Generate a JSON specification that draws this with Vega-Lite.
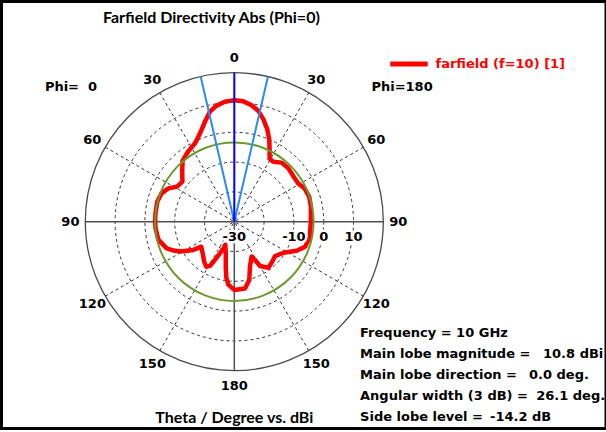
{
  "$schema": "https://vega.github.io/schema/vega-lite/v6.json",
  "width": 604.5,
  "height": 427,
  "autosize": {"type": "none"},
  "padding": {"left": 1.5, "top": 1.5, "right": 0, "bottom": 3.5},
  "background": "white",
  "config": {
    "view": {"stroke": "black", "strokeWidth": 3},
    "text": {"font": "DejaVu Sans", "fontWeight": "bold", "fontSize": 13, "color": "#000000"}
  },
  "datasets": {
    "curve": [
      {"angle": -180, "dBi": -7.1},
      {"angle": -174.6, "dBi": -8.8},
      {"angle": -171.9, "dBi": -11.0},
      {"angle": -169.3, "dBi": -14.6},
      {"angle": -165.1, "dBi": -18.9},
      {"angle": -158.6, "dBi": -21.7},
      {"angle": -157.8, "dBi": -20.2},
      {"angle": -154.1, "dBi": -16.9},
      {"angle": -151.4, "dBi": -13.2},
      {"angle": -148.1, "dBi": -12.2},
      {"angle": -143.1, "dBi": -13.2},
      {"angle": -133.2, "dBi": -15.3},
      {"angle": -127.1, "dBi": -16.1},
      {"angle": -124.6, "dBi": -13.3},
      {"angle": -119.0, "dBi": -9.3},
      {"angle": -115.5, "dBi": -7.5},
      {"angle": -111.5, "dBi": -5.6},
      {"angle": -103.3, "dBi": -3.8},
      {"angle": -95.0, "dBi": -3.5},
      {"angle": -90.0, "dBi": -3.4},
      {"angle": -84.0, "dBi": -3.4},
      {"angle": -75.4, "dBi": -3.3},
      {"angle": -68.7, "dBi": -3.8},
      {"angle": -63.2, "dBi": -5.2},
      {"angle": -58.8, "dBi": -7.4},
      {"angle": -52.3, "dBi": -8.0},
      {"angle": -46.0, "dBi": -5.7},
      {"angle": -40.4, "dBi": -3.2},
      {"angle": -33.3, "dBi": -1.8},
      {"angle": -26.7, "dBi": -0.6},
      {"angle": -21.2, "dBi": 1.8},
      {"angle": -16.3, "dBi": 5.0},
      {"angle": -12.5, "dBi": 7.8},
      {"angle": -8.7, "dBi": 9.4},
      {"angle": -4.5, "dBi": 10.4},
      {"angle": 0, "dBi": 10.8},
      {"angle": 4.3, "dBi": 10.5},
      {"angle": 8.5, "dBi": 9.5},
      {"angle": 12.3, "dBi": 8.0},
      {"angle": 15.9, "dBi": 5.7},
      {"angle": 19.8, "dBi": 2.8},
      {"angle": 23.2, "dBi": -0.2},
      {"angle": 26.6, "dBi": -3.5},
      {"angle": 29.3, "dBi": -5.8},
      {"angle": 33.0, "dBi": -6.0},
      {"angle": 38.7, "dBi": -4.6},
      {"angle": 45.4, "dBi": -4.5},
      {"angle": 52.7, "dBi": -5.0},
      {"angle": 59.1, "dBi": -5.0},
      {"angle": 64.8, "dBi": -3.9},
      {"angle": 71.6, "dBi": -3.5},
      {"angle": 78.9, "dBi": -3.8},
      {"angle": 85.0, "dBi": -4.2},
      {"angle": 90.0, "dBi": -4.3},
      {"angle": 95.0, "dBi": -4.4},
      {"angle": 101.2, "dBi": -4.1},
      {"angle": 109.5, "dBi": -4.8},
      {"angle": 115.0, "dBi": -6.9},
      {"angle": 122.3, "dBi": -10.5},
      {"angle": 130.1, "dBi": -12.1},
      {"angle": 137.7, "dBi": -11.4},
      {"angle": 143.5, "dBi": -10.8},
      {"angle": 149.9, "dBi": -12.8},
      {"angle": 151.6, "dBi": -15.4},
      {"angle": 153.7, "dBi": -16.9},
      {"angle": 160.8, "dBi": -14.0},
      {"angle": 165.6, "dBi": -9.8},
      {"angle": 170.9, "dBi": -7.3},
      {"angle": 180, "dBi": -7.1}
    ],
    "rings": [{"r": 10}, {"r": 20}, {"r": 30}, {"r": 40}],
    "outer": [{"r": 50}],
    "sidelobe": [{"dBi": -3.4}],
    "spokes": [
      {"angle": 30}, {"angle": 60}, {"angle": 120}, {"angle": 150},
      {"angle": -30}, {"angle": -60}, {"angle": -120}, {"angle": -150}
    ],
    "axes": [{"angle": 90}, {"angle": -90}, {"angle": 180}],
    "mainlobe": [{"angle": 0}],
    "beamwidth": [{"angle": -13.05}, {"angle": 13.05}],
    "angleLabels": [
      {"angle": 0, "label": "0"},
      {"angle": 30, "label": "30"}, {"angle": -30, "label": "30"},
      {"angle": 60, "label": "60"}, {"angle": -60, "label": "60"},
      {"angle": 90, "label": "90"}, {"angle": -90, "label": "90"},
      {"angle": 120, "label": "120"}, {"angle": -120, "label": "120"},
      {"angle": 150, "label": "150"}, {"angle": -150, "label": "150"},
      {"angle": 180, "label": "180"}
    ],
    "radialLabels": [
      {"dB": -30, "label": "-30"},
      {"dB": -10, "label": "-10"},
      {"dB": 0, "label": "0"},
      {"dB": 10, "label": "10"}
    ]
  },
  "layer": [
    {
      "data": {"name": "rings"},
      "mark": {"type": "point", "shape": "circle", "filled": false, "stroke": "#333333", "strokeWidth": 1, "strokeDash": [3, 3], "opacity": 1},
      "encoding": {
        "x": {"datum": 0, "type": "quantitative", "scale": {"domain": [-78.12, 124.73], "nice": false, "zero": false}, "axis": null},
        "y": {"datum": 0, "type": "quantitative", "scale": {"domain": [-69.40, 73.89], "nice": false, "zero": false}, "axis": null},
        "size": {"field": "r", "type": "quantitative", "scale": {"type": "pow", "exponent": 2, "domain": [0, 50], "range": [0, 88804], "zero": true}, "legend": null}
      }
    },
    {
      "data": {"name": "outer"},
      "mark": {"type": "point", "shape": "circle", "filled": false, "stroke": "#4a4a4a", "strokeWidth": 1.3, "opacity": 1},
      "encoding": {
        "x": {"datum": 0, "type": "quantitative"},
        "y": {"datum": 0, "type": "quantitative"},
        "size": {"field": "r", "type": "quantitative", "legend": null}
      }
    },
    {
      "data": {"name": "spokes"},
      "transform": [
        {"calculate": "50 * sin(datum.angle * PI / 180)", "as": "ex"},
        {"calculate": "50 * cos(datum.angle * PI / 180)", "as": "ey"}
      ],
      "mark": {"type": "rule", "stroke": "#333333", "strokeWidth": 1, "strokeDash": [3, 3]},
      "encoding": {
        "x": {"field": "ex", "type": "quantitative"},
        "y": {"field": "ey", "type": "quantitative"},
        "x2": {"datum": 0},
        "y2": {"datum": 0}
      }
    },
    {
      "data": {"name": "axes"},
      "transform": [
        {"calculate": "50 * sin(datum.angle * PI / 180)", "as": "ex"},
        {"calculate": "50 * cos(datum.angle * PI / 180)", "as": "ey"}
      ],
      "mark": {"type": "rule", "stroke": "#505050", "strokeWidth": 1.5},
      "encoding": {
        "x": {"field": "ex", "type": "quantitative"},
        "y": {"field": "ey", "type": "quantitative"},
        "x2": {"datum": 0},
        "y2": {"datum": 0}
      }
    },
    {
      "data": {"name": "curve"},
      "transform": [
        {"calculate": "(datum.dBi + 30) * sin(datum.angle * PI / 180)", "as": "cx"},
        {"calculate": "(datum.dBi + 30) * cos(datum.angle * PI / 180)", "as": "cy"}
      ],
      "mark": {"type": "line", "strokeWidth": 4.5, "strokeJoin": "round", "strokeCap": "round"},
      "encoding": {
        "x": {"field": "cx", "type": "quantitative"},
        "y": {"field": "cy", "type": "quantitative"},
        "order": {"field": "angle", "type": "quantitative"},
        "color": {
          "datum": "farfield (f=10) [1]",
          "type": "nominal",
          "scale": {"range": ["#ff0000"]},
          "legend": {
            "title": null,
            "orient": "none",
            "legendX": 386,
            "legendY": 41,
            "padding": 0,
            "symbolType": "stroke",
            "symbolSize": 1400,
            "symbolStrokeWidth": 5,
            "labelOffset": 5,
            "labelFont": "DejaVu Sans",
            "labelFontWeight": "bold",
            "labelFontSize": 13,
            "labelColor": "#ff0000",
            "labelLimit": 300
          }
        }
      }
    },
    {
      "data": {"name": "sidelobe"},
      "transform": [{"calculate": "datum.dBi + 30", "as": "r"}],
      "mark": {"type": "point", "shape": "circle", "filled": false, "stroke": "#6b9a2c", "strokeWidth": 2, "opacity": 1},
      "encoding": {
        "x": {"datum": 0, "type": "quantitative"},
        "y": {"datum": 0, "type": "quantitative"},
        "size": {"field": "r", "type": "quantitative", "legend": null}
      }
    },
    {
      "data": {"name": "beamwidth"},
      "transform": [
        {"calculate": "50 * sin(datum.angle * PI / 180)", "as": "ex"},
        {"calculate": "50 * cos(datum.angle * PI / 180)", "as": "ey"}
      ],
      "mark": {"type": "rule", "stroke": "#2a8cf0", "strokeWidth": 2},
      "encoding": {
        "x": {"field": "ex", "type": "quantitative"},
        "y": {"field": "ey", "type": "quantitative"},
        "x2": {"datum": 0},
        "y2": {"datum": 0}
      }
    },
    {
      "data": {"name": "mainlobe"},
      "transform": [
        {"calculate": "50 * sin(datum.angle * PI / 180)", "as": "ex"},
        {"calculate": "50 * cos(datum.angle * PI / 180)", "as": "ey"}
      ],
      "mark": {"type": "rule", "stroke": "#0000ff", "strokeWidth": 2},
      "encoding": {
        "x": {"field": "ex", "type": "quantitative"},
        "y": {"field": "ey", "type": "quantitative"},
        "x2": {"datum": 0},
        "y2": {"datum": 0}
      }
    },
    {
      "data": {"name": "radialLabels"},
      "transform": [{"calculate": "datum.dB + 30", "as": "r"}],
      "mark": {"type": "text", "align": "center", "baseline": "middle", "stroke": "white", "strokeWidth": 5, "strokeJoin": "round"},
      "encoding": {
        "x": {"field": "r", "type": "quantitative"},
        "y": {"datum": -5, "type": "quantitative"},
        "text": {"field": "label"}
      }
    },
    {
      "data": {"name": "radialLabels"},
      "transform": [{"calculate": "datum.dB + 30", "as": "r"}],
      "mark": {"type": "text", "align": "center", "baseline": "middle"},
      "encoding": {
        "x": {"field": "r", "type": "quantitative"},
        "y": {"datum": -5, "type": "quantitative"},
        "text": {"field": "label"}
      }
    },
    {
      "data": {"name": "angleLabels"},
      "transform": [
        {"calculate": "55 * sin(datum.angle * PI / 180)", "as": "lx"},
        {"calculate": "55 * cos(datum.angle * PI / 180)", "as": "ly"}
      ],
      "mark": {"type": "text", "align": "center", "baseline": "middle"},
      "encoding": {
        "x": {"field": "lx", "type": "quantitative"},
        "y": {"field": "ly", "type": "quantitative"},
        "text": {"field": "label"}
      }
    },
    {
      "data": {"values": [{"t": "Farfield Directivity Abs (Phi=0)"}]},
      "mark": {"type": "text", "align": "left", "baseline": "middle", "font": "Lato", "fontSize": 16},
      "encoding": {
        "x": {"datum": -44.06, "type": "quantitative"},
        "y": {"datum": 68.5, "type": "quantitative"},
        "text": {"field": "t"}
      }
    },
    {
      "data": {"values": [{"t": "Theta / Degree vs. dBi"}]},
      "mark": {"type": "text", "align": "center", "baseline": "middle", "font": "Lato", "fontSize": 16},
      "encoding": {
        "x": {"datum": 0, "type": "quantitative"},
        "y": {"datum": -65.9, "type": "quantitative"},
        "text": {"field": "t"}
      }
    },
    {
      "data": {"values": [{"t": "Phi=\u00a0 0"}]},
      "mark": {"type": "text", "align": "center", "baseline": "middle"},
      "encoding": {
        "x": {"datum": -54.8, "type": "quantitative"},
        "y": {"datum": 45.2, "type": "quantitative"},
        "text": {"field": "t"}
      }
    },
    {
      "data": {"values": [{"t": "Phi=180"}]},
      "mark": {"type": "text", "align": "center", "baseline": "middle"},
      "encoding": {
        "x": {"datum": 56.3, "type": "quantitative"},
        "y": {"datum": 45.2, "type": "quantitative"},
        "text": {"field": "t"}
      }
    },
    {
      "data": {"values": [{"t": "info"}]},
      "mark": {
        "type": "text", "align": "left", "baseline": "middle", "lineHeight": 21,
        "text": [
          "Frequency = 10 GHz",
          "Main lobe magnitude =",
          "Main lobe direction =",
          "Angular width (3 dB) =",
          "Side lobe level ="
        ]
      },
      "encoding": {
        "x": {"datum": 42.2, "type": "quantitative"},
        "y": {"datum": -37.35, "type": "quantitative"}
      }
    },
    {
      "data": {"values": [{"t": "10.8 dBi"}]},
      "mark": {"type": "text", "align": "left", "baseline": "middle"},
      "encoding": {
        "x": {"datum": 103.6, "type": "quantitative"},
        "y": {"datum": -44.40, "type": "quantitative"},
        "text": {"field": "t"}
      }
    },
    {
      "data": {"values": [{"t": "0.0 deg."}]},
      "mark": {"type": "text", "align": "left", "baseline": "middle"},
      "encoding": {
        "x": {"datum": 98.89, "type": "quantitative"},
        "y": {"datum": -51.44, "type": "quantitative"},
        "text": {"field": "t"}
      }
    },
    {
      "data": {"values": [{"t": "26.1 deg."}]},
      "mark": {"type": "text", "align": "left", "baseline": "middle"},
      "encoding": {
        "x": {"datum": 101.3, "type": "quantitative"},
        "y": {"datum": -58.49, "type": "quantitative"},
        "text": {"field": "t"}
      }
    },
    {
      "data": {"values": [{"t": "-14.2 dB"}]},
      "mark": {"type": "text", "align": "left", "baseline": "middle"},
      "encoding": {
        "x": {"datum": 85.81, "type": "quantitative"},
        "y": {"datum": -65.54, "type": "quantitative"},
        "text": {"field": "t"}
      }
    }
  ]
}
